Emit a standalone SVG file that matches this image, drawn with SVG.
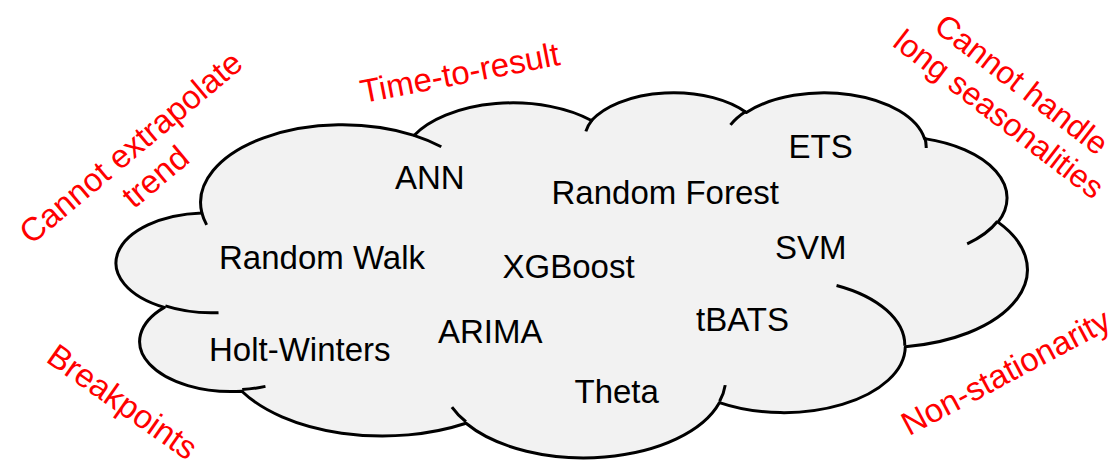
<svg xmlns="http://www.w3.org/2000/svg" width="1119" height="461" viewBox="0 0 1119 461">
  <style>
    .cloud { fill: #f2f2f2; stroke: #000; stroke-width: 3; stroke-linejoin: round; }
    .creases { fill: none; stroke: #000; stroke-width: 3; stroke-linecap: butt; }
    .model { font-family: "Liberation Sans", Arial, sans-serif; font-size: 33px; fill: #000; }
    .issue { font-family: "Liberation Sans", Arial, sans-serif; font-size: 33px; fill: #ff0000; text-anchor: middle; }
  </style>

  <!-- cloud outline built from eleven elliptical lobes -->
  <g id="cloud">
    <path class="cloud" d="M 201.88 212.91
      A 141.78 77.65 0 0 1 414.01 135.44
      A 111.97 61.40 0 0 1 591.46 120.51
      A 91.64 50.23 0 0 1 746.36 112.48
      A 101.97 55.72 0 0 1 924.51 138.64
      A 111.97 61.45 0 0 1 997.99 222.15
      A 142.24 77.90 0 0 1 905.30 346.70
      A 121.46 66.47 0 0 1 719.51 402.55
      A 141.76 77.86 0 0 1 466.00 423.27
      A 162.08 89.08 0 0 1 241.83 391.22
      A 91.54 50.00 0 0 1 164.34 307.39
      A 91.22 50.23 0 0 1 201.88 212.91 Z"/>
    <!-- short inner continuations of each lobe -->
    <path class="creases" d="M 218.53 312.67 A 91.22 50.23 0 0 1 165.33 305.94
      M 265.45 386.36 A 91.54 50.00 0 0 1 242.18 389.58
      M 465.96 421.77 A 141.76 77.86 0 0 1 451.91 407.05
      M 725.22 385.11 A 141.76 77.86 0 0 1 719.62 401.24
      M 836.54 285.44 A 121.46 66.47 0 0 1 904.80 345.72
      M 997.55 221.23 A 111.97 61.45 0 0 1 967.17 243.82
      M 924.61 137.34 A 101.97 55.72 0 0 1 926.21 148.02
      M 730.49 124.89 A 101.97 55.72 0 0 1 746.07 111.27
      M 585.85 131.38 A 91.64 50.23 0 0 1 592.39 119.64
      M 413.93 135.37 A 141.78 77.65 0 0 1 441.29 146.79
      M 206.65 224.90 A 141.78 77.65 0 0 1 201.88 212.91"/>
  </g>

  <!-- forecasting methods inside the cloud -->
  <g id="ann"><text class="model" x="395" y="189">ANN</text></g>
  <g id="random-forest"><text class="model" x="551.5" y="204">Random Forest</text></g>
  <g id="ets"><text class="model" x="788.5" y="157.5">ETS</text></g>
  <g id="random-walk"><text class="model" x="219" y="269">Random Walk</text></g>
  <g id="xgboost"><text class="model" x="502.5" y="278">XGBoost</text></g>
  <g id="svm"><text class="model" x="775" y="259">SVM</text></g>
  <g id="holt-winters"><text class="model" x="209" y="361">Holt-Winters</text></g>
  <g id="arima"><text class="model" x="438" y="342.5">ARIMA</text></g>
  <g id="tbats"><text class="model" x="696" y="330.5">tBATS</text></g>
  <g id="theta"><text class="model" x="574.5" y="403">Theta</text></g>

  <!-- limitations around the cloud -->
  <g id="time-to-result">
    <text class="issue" transform="translate(462 84) rotate(-11)">Time-to-result</text>
  </g>
  <g id="extrapolate-trend">
    <text class="issue" transform="translate(138 156) rotate(-40)"><tspan x="0" y="0">Cannot extrapolate</tspan><tspan x="0" y="38.4">trend</tspan></text>
  </g>
  <g id="long-seasonalities">
    <text class="issue" style="font-size:32px" transform="translate(1015 93) rotate(37.5)"><tspan x="0" y="0">Cannot handle</tspan><tspan x="0" y="37.5">long seasonalities</tspan></text>
  </g>
  <g id="breakpoints">
    <text class="issue" transform="translate(116 411) rotate(35)">Breakpoints</text>
  </g>
  <g id="non-stationarity">
    <text class="issue" transform="translate(1011 382) rotate(-28)">Non-stationarity</text>
  </g>
</svg>
